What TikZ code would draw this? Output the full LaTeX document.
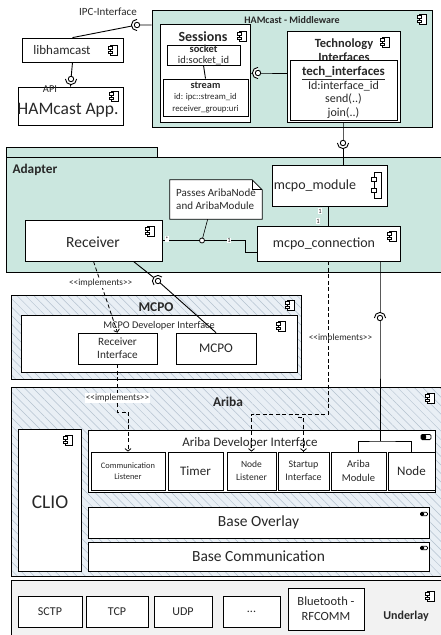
\documentclass[tikz,border=0pt]{standalone}
\usepackage{fontspec}
\setmainfont{Carlito}
\usepackage{xcolor}
\usetikzlibrary{arrows.meta,shapes,positioning,calc,patterns.meta}

\definecolor{mint}{RGB}{203,231,223}
\definecolor{hatchbg}{RGB}{233,239,245}
\definecolor{hatchln}{RGB}{180,193,207}
\definecolor{ulgray}{RGB}{242,242,242}
\definecolor{ink}{RGB}{40,40,40}

\newcommand{\fsz}[2]{\fontsize{#1}{#2}\selectfont}
\newcommand{\stereo}{<\kern0pt<implements>\kern0pt>}

\tikzset{
  compicon/.pic={
    \draw[line width=0.9pt, fill=white] (-2.5,-5) rectangle (4,5);
    \draw[line width=0.9pt, fill=white] (-5,-3.3) rectangle (-0.5,-1);
    \draw[line width=0.9pt, fill=white] (-5,1) rectangle (-0.5,3.3);
  },
  bigcompicon/.pic={
    \draw[line width=0.9pt, fill=white] (-3,-13) rectangle (4,13);
    \draw[line width=0.9pt, fill=white] (-6,-8) rectangle (-1,-3.5);
    \draw[line width=0.9pt, fill=white] (-6,3) rectangle (-1,7.5);
  },
  ifaceicon/.pic={
    \draw[line width=0.8pt, fill=white, rounded corners=1.2] (-5,-2.6) rectangle (5,2.6);
    \fill[rounded corners=1.2] (-5,-2.6) rectangle (0,2.6);
  },
  sockpic/.pic={
    \fill[white] (90:5.6) arc (90:270:5.6) -- cycle;
    \draw[line width=0.9pt] (90:5.6) arc (90:270:5.6);
    \draw[line width=0.9pt, fill=white] (0,0) circle (2.7);
  }
}

\begin{document}
\begin{tikzpicture}[x=1pt, y=-1pt,
  every node/.append style={text=ink},
  box/.style={draw, fill=white, line width=0.8pt, align=center, inner sep=1pt},
  cont/.style={draw, line width=1pt},
  hatched/.style={cont, preaction={fill=hatchbg}, pattern={Lines[angle=-45,distance=6pt,line width=0.5pt]}, pattern color=hatchln},
  wire/.style={line width=0.9pt},
  impl/.style={line width=0.8pt, dash pattern=on 4pt off 2.5pt, -{Straight Barb[length=2.5pt,width=6pt]}},
  lbl/.style={font=\fsz{9.3}{11}, inner sep=1pt},
  mult/.style={font=\fsz{6.5}{7}, fill=white, inner sep=0.6pt}
]

\useasboundingbox (0,0) rectangle (441,635);
\fill[white] (0,0) rectangle (441,635);

\node[cont, fill=mint, minimum width=280, minimum height=117] (mw) at (292,68.5) {};
\node[font=\fsz{10}{12}\bfseries] (mwt) at (292,20) {HAMcast - Middleware};
\pic at (422,19) {compicon};

\node[box, minimum width=90, minimum height=98] (sess) at (205,73) {};
\node[font=\fsz{14}{16}\bfseries] (sesst) at (203,37) {Sessions};
\pic at (242,36) {compicon};
\node[box, minimum width=73, minimum height=20, inner sep=0pt, font=\fsz{10.5}{10.5}] (sockb) at (203.5,55) {\textbf{socket}\\id:socket\_id};
\node[box, minimum width=85, minimum height=37, inner sep=0pt, font=\fsz{8.8}{11.5}] (strb) at (205.5,97.5) {{\fsz{10.3}{11.5}\bfseries stream}\\id: ipc::stream\_id\\receiver\_group:uri};
\draw[wire] (sockb.south) -- (strb.north);

\node[box, minimum width=113, minimum height=91] (tech) at (343.5,76.5) {};
\node[font=\fsz{12.5}{14}\bfseries, align=center] (techt) at (344,50) {Technology\\Interfaces};
\pic at (385,42) {compicon};
\node[box, minimum width=107, minimum height=60] (techin) at (343.5,90) {};
\node[font=\fsz{12}{13.7}, align=center] (techtx) at (343.5,92.5) {{\fsz{13}{13.7}\underline{\textbf{tech\_interfaces}}}\\Id:interface\_id\\send(..)\\join(..)};

\node[box, minimum width=101, minimum height=24] (libh) at (72.5,50) {};
\node[font=\fsz{13}{15}] (libht) at (62,50) {libhamcast};
\pic at (113,50) {compicon};
\node[box, minimum width=105, minimum height=38] (app) at (70.5,106) {};
\node[font=\fsz{17.5}{20}] (appt) at (68,110) {HAMcast App.};
\pic at (114,96) {compicon};
\node[font=\fsz{11}{12}] (ipct) at (108,12) {IPC-Interface};
\node[font=\fsz{10.5}{12}] (apit) at (50,89) {API};

\coordinate (ipcs) at (137,25);
\coordinate (apis) at (71,79);
\coordinate (mws) at (258,73);
\coordinate (adsock) at (343,143);
\draw[wire] (libh.north) -- (ipcs) -- (ipcs -| mw.west);
\draw[wire] (libh.south) -- (apis) -- (app.north);
\draw[wire] (sess.east |- mws) -- (mws) -- (mws -| tech.west);

\draw[cont, fill=mint] (6,147) rectangle (157,157);
\node[cont, fill=mint, minimum width=440, minimum height=115] (adapter) at (226,214.5) {};
\node[font=\fsz{13.3}{15}\bfseries, anchor=west] (adt) at (9,170) {Adapter};

\draw[wire] (tech.south -| adsock) -- (adsock) -- (adsock |- adapter.north);

\node[box, minimum width=115, minimum height=41] (mcpomod) at (329.5,185.5) {};
\node[font=\fsz{14}{16}] (mcpomodt) at (315,186) {mcpo\_module};
\pic at (377,185) {bigcompicon};
\node[box, minimum width=143, minimum height=35] (mcpoconn) at (328.5,243.5) {};
\node[font=\fsz{14}{16}] (mcpoconnt) at (324,244) {mcpo\_connection};
\pic at (392,236) {compicon};
\node[box, minimum width=137, minimum height=41] (receiver) at (93.5,240.5) {};
\node[font=\fsz{15.5}{17}] (receivert) at (93,242) {Receiver};
\pic at (150,231) {compicon};

\draw[wire] (adsock) -- (adsock |- mcpomod.north);
\draw[wire] (mcpoconn.north) -- (mcpoconn.north |- mcpomod.south);
\node[mult] (m1) at (320,211) {1};
\node[mult] (m2) at (318,221) {1};

\node[minimum width=92, minimum height=39] (note) at (216,199.5) {};
\draw[line width=0.7pt, fill=white] (note.north west) -- ($(note.north east)+(-10,0)$) -- ($(note.north east)+(0,10)$) -- (note.south east) -- (note.south west) -- cycle;
\draw[line width=0.7pt] ($(note.north east)+(-10,0)$) -- ++(0,10) -- ++(10,0);
\node[font=\fsz{11}{13}, align=left] (notet) at (216,199.5) {Passes AribaNode\\and AribaModule};

\coordinate (asc) at (202,240.5);
\coordinate (asb) at (245,240.5);
\coordinate (asd) at (245,252);
\draw[wire] (receiver.east) -- (asc) -- (asb) -- (asd) -- (asd -| mcpoconn.west);
\draw[line width=0.6pt] ($(note.south west)!0.41!(note.south east)$) -- (asc);
\draw[line width=0.8pt, fill=white] (asc) circle (2.5);
\node[mult] (m3) at (167,239) {*};
\node[mult] (m4) at (229,240.5) {1};

\node[hatched, minimum width=290, minimum height=84] (mcpoout) at (156,337) {};
\node[font=\fsz{13.4}{15}\bfseries] (mcpoott) at (156,307) {MCPO};
\pic at (290,305) {compicon};
\node[box, minimum width=276, minimum height=57] (mcpodev) at (159,343.5) {};
\node[font=\fsz{10.3}{12}] (mcpodevt) at (159,326) {MCPO Developer Interface};
\pic at (281,326) {compicon};
\node[box, minimum width=79, minimum height=31, font=\fsz{11.2}{13}] (rxif) at (117.5,348.5) {Receiver\\Interface};
\node[box, minimum width=80, minimum height=31, font=\fsz{13.2}{15}] (mcpoin) at (216,348.5) {MCPO};

\node[hatched, minimum width=435, minimum height=189] (ariba) at (228.5,481.5) {};
\node[font=\fsz{13.4}{15}\bfseries] (aribat) at (228,402) {Ariba};
\pic at (430,398) {compicon};
\node[box, minimum width=63, minimum height=142] (clio) at (49.5,500) {};
\node[font=\fsz{19.5}{22}] (cliot) at (50,502) {CLIO};
\pic at (68,440) {compicon};
\node[box, minimum width=347, minimum height=62] (aribadev) at (261.5,461) {};
\node[font=\fsz{13}{15}] (aribadevt) at (250,443) {Ariba Developer Interface};
\pic at (426,437) {ifaceicon};
\node[box, minimum width=74, minimum height=38, font=\fsz{8.4}{11}] (comml) at (128,471) {Communication\\Listener};
\node[box, minimum width=55, minimum height=38, font=\fsz{13}{15}] (timer) at (195.5,471) {Timer};
\node[box, minimum width=49, minimum height=38, font=\fsz{9.5}{13}] (nodel) at (251.5,471) {Node\\Listener};
\node[box, minimum width=51, minimum height=38, font=\fsz{10}{13}] (startup) at (303.5,471) {Startup\\Interface};
\node[box, minimum width=55, minimum height=38, font=\fsz{10.5}{14}] (aribamod) at (358.5,471) {Ariba\\Module};
\node[box, minimum width=47, minimum height=38, font=\fsz{13}{15}] (node) at (411.5,471) {Node};
\node[box, minimum width=341, minimum height=31, font=\fsz{15.5}{17}] (baseov) at (258.5,522.5) {Base Overlay};
\pic[scale=0.7] at (424,514) {ifaceicon};
\node[box, minimum width=341, minimum height=29, font=\fsz{15.5}{17}] (basecomm) at (258.5,556.5) {Base Communication};
\pic[scale=0.7] at (424,548) {ifaceicon};

\node[cont, fill=ulgray, minimum width=435, minimum height=60] (underlay) at (228.5,610) {};
\node[box, minimum width=64, minimum height=31, font=\fsz{12}{14}] (sctp) at (50,611.5) {SCTP};
\node[box, minimum width=62, minimum height=31, font=\fsz{12}{14}] (tcp) at (117,611.5) {TCP};
\node[box, minimum width=58, minimum height=31, font=\fsz{12}{14}] (udp) at (183,611.5) {UDP};
\node[box, minimum width=57, minimum height=31, font=\fsz{12}{14}] (dots) at (251.5,611.5) {...};
\node[box, minimum width=76, minimum height=42, font=\fsz{12.5}{15}] (bt) at (326,609) {Bluetooth -\\RFCOMM};
\node[font=\fsz{12}{14}\bfseries] (ult) at (406,616) {Underlay};
\pic at (430,596) {compicon};

\coordinate (rxsock) at (158,281);
\coordinate (arsock) at (380,318);
\coordinate (brk) at (380,441);
\coordinate (dturn) at (328,414);
\coordinate (dbr) at (298,417);
\coordinate (lturn) at (128,412);

\draw[wire] ($(receiver.south west)!0.79!(receiver.south east)$) -- (rxsock) -- (mcpoin.north);
\draw[impl] (receiver.south) -- node[lbl, fill=white, pos=0.3] {\stereo} (rxif.north);
\draw[impl] (rxif.south) -- node[lbl, fill=white, pos=0.7] {\stereo} (rxif.south |- lturn) -| (comml.north);
\draw[impl] (mcpoconn.south) -- node[lbl, pos=0.5, xshift=12] {\stereo} (mcpoconn.south |- dturn) -| (nodel.north);
\draw[impl] (dbr) -| (startup.north);
\draw[wire] (mcpoconn.south -| arsock) -- (arsock) -- (brk);
\draw[wire] (aribamod.north) |- (brk) -| (node.north);

\pic at (ipcs) {sockpic};
\pic[rotate=90] at (apis) {sockpic};
\pic at (mws) {sockpic};
\pic[rotate=90] at (adsock) {sockpic};
\pic[rotate=-45] at (rxsock) {sockpic};
\pic[rotate=-90] at (arsock) {sockpic};

\end{tikzpicture}
\end{document}
